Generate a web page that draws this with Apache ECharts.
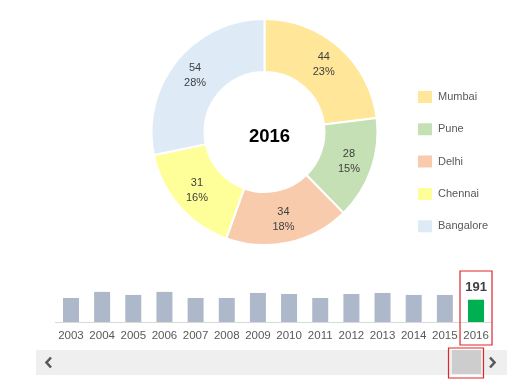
<!DOCTYPE html>
<html>
<head>
<meta charset="utf-8">
<script src="https://cdn.jsdelivr.net/npm/echarts@6/dist/echarts.min.js"></script>
<style>
html,body{margin:0;padding:0;background:#fff;}
#c{width:528px;height:383px;}
</style>
</head>
<body>
<div id="c"></div>
<script>
// Donut data (selected year 2016)
const selectedYear = '2016';
const cities = ['Mumbai', 'Pune', 'Delhi', 'Chennai', 'Bangalore'];
const cityValues = [44, 28, 34, 31, 54];
const cityColors = ['#FFE699', '#C5E0B4', '#F8CBAD', '#FFFF99', '#DEEBF7'];

// Yearly totals
const years = ['2003','2004','2005','2006','2007','2008','2009','2010','2011','2012','2013','2014','2015','2016'];
const totals = [206, 258, 232, 258, 206, 206, 249, 240, 206, 240, 249, 232, 232, 191];

const FONT = '"Liberation Sans", Arial, sans-serif';
const total = cityValues.reduce((a, b) => a + b, 0);

const chart = echarts.init(document.getElementById('c'), null, {renderer: 'canvas'});

const pieData = cities.map((c, i) => ({name: c, value: cityValues[i], itemStyle: {color: cityColors[i]}}));
const barData = totals.map((v, i) => {
  const sel = years[i] === selectedYear;
  return {
    value: v,
    itemStyle: {color: sel ? '#00B050' : '#ADB9CA'},
    label: sel ? {show: true, position: 'top', distance: 6, formatter: '{c}', color: '#404040',
                  fontFamily: FONT, fontWeight: 'bold', fontSize: 13} : {show: false}
  };
});

const option = {
  animation: false,
  backgroundColor: '#ffffff',
  legend: {
    orient: 'vertical',
    left: 416, top: 89,
    padding: 0,
    itemWidth: 16, itemHeight: 14, itemGap: 16.3,
    icon: 'rect',
    data: cities,
    textStyle: {color: '#595959', fontFamily: FONT, fontSize: 11, lineHeight: 14},
    selectedMode: false
  },
  title: {
    text: selectedYear,
    left: 264.5, top: 132,
    textAlign: 'center', textVerticalAlign: 'middle',
    textStyle: {fontFamily: FONT, fontWeight: 'bold', fontSize: 18.5, color: '#000'}
  },
  grid: {left: 55.4, right: 36.4, top: 287, bottom: 61},
  xAxis: {
    type: 'category', data: years,
    axisLine: {lineStyle: {color: '#D9D9D9', width: 1}},
    axisTick: {show: false},
    axisLabel: {color: '#595959', fontFamily: FONT, fontSize: 11.5, margin: 8, interval: 0}
  },
  yAxis: {type: 'value', min: 0, max: 300, show: false, splitLine: {show: false}},
  series: [
    {
      type: 'pie',
      center: [264.5, 132],
      radius: [60, 113],
      startAngle: 90,
      clockwise: true,
      avoidLabelOverlap: false,
      itemStyle: {borderColor: '#fff', borderWidth: 2},
      label: {
        show: true, position: 'inside',
        formatter: p => p.value + '\n' + Math.round(p.value / total * 100) + '%',
        color: '#404040', fontFamily: FONT, fontSize: 11, lineHeight: 15
      },
      labelLine: {show: false},
      emphasis: {disabled: true},
      data: pieData
    },
    {
      type: 'bar',
      barWidth: 16,
      data: barData,
      emphasis: {disabled: true}
    }
  ]
};

chart.setOption(option);

// Decorations: highlight box around selected year & scrollbar
const selIdx = years.indexOf(selectedYear);
const selX = chart.convertToPixel({xAxisIndex: 0}, selIdx);
chart.setOption({
  graphic: [
    {type: 'rect', shape: {x: selX - 16, y: 271, width: 32, height: 74},
     style: {fill: 'none', stroke: '#E0262B', lineWidth: 1.2}, z: 100},
    {type: 'rect', shape: {x: 36, y: 350, width: 471, height: 25}, style: {fill: '#EFEFEF'}, z: 90},
    {type: 'rect', shape: {x: 452, y: 350, width: 29, height: 24}, style: {fill: '#CDCDCD'}, z: 95},
    {type: 'rect', shape: {x: 448.5, y: 348, width: 35, height: 30},
     style: {fill: 'none', stroke: '#E0262B', lineWidth: 1.2}, z: 100},
    {type: 'polyline', shape: {points: [[51, 357.5], [46.5, 362.5], [51, 367.5]]},
     style: {stroke: '#595959', lineWidth: 2.6, fill: 'none'}, z: 100},
    {type: 'polyline', shape: {points: [[490, 357.5], [494.5, 362.5], [490, 367.5]]},
     style: {stroke: '#595959', lineWidth: 2.6, fill: 'none'}, z: 100}
  ]
});
</script>
</body>
</html>
